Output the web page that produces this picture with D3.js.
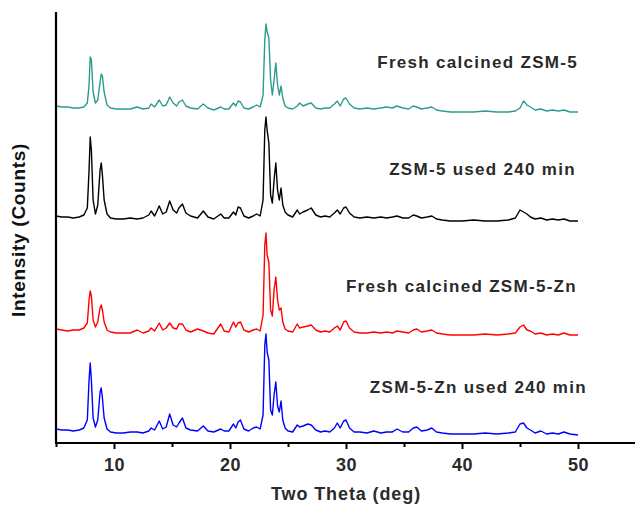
<!DOCTYPE html>
<html>
<head>
<meta charset="utf-8">
<script src="https://cdnjs.cloudflare.com/ajax/libs/d3/7.8.5/d3.min.js"></script>
<style>
  body { margin: 0; background: #fff; }
  text { font-family: "Liberation Sans", Arial, sans-serif; }
</style>
</head>
<body>
<svg id="chart" width="635" height="507"></svg>
<script>
// XRD patterns, stacked. Intensities are read off the picture (a.u.),
// each series sits on its own offset.

var twoTheta = [5.0, 5.5, 6.0, 6.5, 7.0, 7.4, 7.7, 7.85, 7.95, 8.05,
  8.2, 8.4, 8.6, 8.8, 8.9, 9.0, 9.15, 9.4, 9.7, 10.2,
  10.8, 11.4, 12.0, 12.5, 13.0, 13.2, 13.5, 13.9, 14.2, 14.5,
  14.8, 15.1, 15.4, 15.6, 15.9, 16.2, 16.6, 17.2, 17.7, 18.1,
  18.6, 19.2, 19.5, 19.9, 20.3, 20.5, 20.7, 20.9, 21.2, 21.6,
  22.0, 22.3, 22.6, 22.85, 23.0, 23.1, 23.2, 23.35, 23.5, 23.65,
  23.8, 23.95, 24.1, 24.25, 24.4, 24.55, 24.75, 25.0, 25.4, 25.8,
  26.0, 26.3, 26.7, 27.0, 27.4, 27.8, 28.2, 28.6, 29.0, 29.25,
  29.5, 29.8, 30.0, 30.3, 30.7, 31.2, 31.8, 32.4, 33.0, 33.5,
  34.0, 34.4, 34.9, 35.4, 35.8, 36.1, 36.5, 37.0, 37.4, 37.8,
  38.3, 39.0, 40.0, 41.0, 42.0, 43.0, 44.0, 44.6, 45.0, 45.3,
  45.6, 45.9, 46.3, 46.8, 47.3, 47.8, 48.3, 48.8, 49.3, 50.0];

var freshZSM5 = [12, 11, 11, 10, 10, 11, 15, 33, 61, 58,
  26, 15, 18, 36, 44, 42, 26, 13, 10, 9,
  9, 9, 11, 9, 10, 14, 11, 18, 12, 13,
  21, 15, 12, 16, 18, 12, 10, 9, 14, 10,
  8, 11, 9, 9, 15, 12, 17, 16, 10, 9,
  11, 13, 11, 23, 78, 94, 86, 80, 38, 23,
  38, 55, 33, 23, 32, 20, 12, 10, 9, 12,
  15, 12, 14, 15, 10, 9, 10, 10, 14, 17,
  12, 19, 20, 14, 10, 9, 10, 9, 10, 11,
  10, 12, 10, 9, 12, 11, 9, 10, 11, 8,
  7, 6, 6, 6, 7, 6, 6, 7, 10, 17,
  13, 11, 8, 9, 7, 8, 7, 8, 6, 6];

var usedZSM5 = [12, 11, 11, 10, 11, 13, 20, 58, 91, 78,
  28, 14, 23, 58, 65, 53, 28, 14, 10, 9,
  9, 10, 9, 10, 13, 17, 12, 22, 14, 16,
  27, 18, 15, 20, 24, 15, 12, 10, 17, 11,
  9, 14, 10, 10, 16, 13, 21, 20, 12, 10,
  12, 14, 12, 28, 98, 111, 98, 85, 33, 25,
  48, 65, 38, 28, 40, 23, 16, 13, 11, 18,
  14, 16, 18, 20, 13, 11, 12, 11, 15, 18,
  14, 20, 21, 15, 11, 10, 11, 10, 11, 10,
  11, 12, 10, 10, 13, 12, 10, 11, 12, 9,
  8, 7, 7, 8, 7, 7, 8, 10, 18, 16,
  14, 11, 9, 10, 8, 9, 8, 9, 7, 7];

var freshZSM5Zn = [14, 13, 12, 13, 13, 15, 20, 43, 52, 47,
  23, 16, 21, 35, 38, 33, 21, 13, 11, 10,
  10, 10, 13, 10, 12, 15, 12, 20, 13, 15,
  20, 15, 14, 19, 19, 13, 11, 14, 12, 10,
  9, 19, 12, 11, 21, 16, 20, 21, 13, 11,
  13, 14, 12, 28, 98, 110, 88, 81, 33, 27,
  53, 66, 43, 33, 35, 21, 14, 12, 11, 19,
  15, 16, 17, 18, 13, 11, 12, 11, 15, 17,
  13, 21, 22, 15, 11, 10, 10, 11, 10, 11,
  10, 12, 11, 10, 13, 14, 11, 12, 13, 10,
  9, 8, 8, 8, 9, 8, 9, 10, 16, 18,
  13, 12, 9, 10, 8, 9, 8, 10, 8, 8];

var usedZSM5Zn = [14, 13, 13, 12, 13, 15, 23, 63, 80, 63,
  25, 16, 23, 51, 55, 45, 25, 14, 11, 10,
  10, 11, 11, 10, 12, 15, 13, 22, 14, 16,
  29, 18, 16, 20, 25, 15, 13, 12, 17, 12,
  11, 14, 12, 12, 19, 15, 21, 23, 14, 12,
  15, 16, 14, 28, 98, 109, 91, 83, 33, 28,
  48, 61, 37, 31, 42, 23, 15, 12, 11, 18,
  16, 17, 19, 18, 13, 11, 12, 11, 15, 20,
  15, 22, 23, 15, 11, 11, 10, 12, 10, 11,
  11, 14, 11, 11, 15, 16, 12, 13, 15, 11,
  10, 9, 9, 9, 10, 9, 10, 11, 19, 20,
  15, 13, 10, 12, 9, 10, 9, 11, 9, 8];

var seriesNames = ["Fresh calcined ZSM-5", "ZSM-5 used 240 min",
                   "Fresh calcined ZSM-5-Zn", "ZSM-5-Zn used 240 min"];
var seriesValues = [freshZSM5, usedZSM5, freshZSM5Zn, usedZSM5Zn];
var seriesOffsets = [325, 215, 100, 0];
var seriesColors = ["#2e9a90", "#000000", "#ff0000", "#0000ff"];

var majorTicks = [10, 20, 30, 40, 50];
var minorTicks = [5, 15, 25, 35, 45, 55];

///////////////////////////////////////////////////////////////////////////////
// Layout

var svg = d3.select("#chart");
var plotLeft = 56, plotBottom = 443, plotTop = 12;

var x = d3.scaleLinear().domain([5, 55]).range([plotLeft, 636]);
var y = d3.scaleLinear().domain([0, 431]).range([plotBottom, plotTop]);

///////////////////////////////////////////////////////////////////////////////
// Patterns

var line = d3.line()
  .x(function (d) { return x(d[0]); })
  .y(function (d) { return y(d[1]); });

seriesValues.forEach(function (vals, k) {
  var pts = twoTheta.map(function (t, i) { return [t, vals[i] + seriesOffsets[k]]; });
  svg.append("path")
    .attr("d", line(pts))
    .attr("fill", "none")
    .attr("stroke", seriesColors[k])
    .attr("stroke-width", 1.4)
    .attr("stroke-linejoin", "round");
});

// series labels, right aligned near 50 deg
var labelDx = [0, -2, -1, 9];
var labelDy = [50, 53, 51, 50];
seriesNames.forEach(function (name, k) {
  svg.append("text")
    .attr("x", x(50) + labelDx[k])
    .attr("y", y(seriesOffsets[k] + labelDy[k]))
    .attr("text-anchor", "end")
    .attr("font-size", 17)
    .attr("font-weight", "bold")
    .attr("letter-spacing", 1.3)
    .attr("fill", "#2a2a2a")
    .text(name);
});

///////////////////////////////////////////////////////////////////////////////
// Axes

var xAxis = svg.append("g")
  .attr("transform", "translate(0," + plotBottom + ")")
  .call(d3.axisBottom(x).tickValues(majorTicks).tickSize(6).tickPadding(9));
xAxis.select(".domain").remove();
xAxis.selectAll(".tick line").attr("stroke-width", 2);
xAxis.selectAll(".tick text")
  .attr("font-size", 18)
  .attr("font-weight", "bold")
  .attr("letter-spacing", 0.5)
  .attr("font-family", "Liberation Sans, Arial, sans-serif")
  .attr("fill", "#2a2a2a");

var xMinor = svg.append("g")
  .attr("transform", "translate(0," + plotBottom + ")")
  .call(d3.axisBottom(x).tickValues(minorTicks).tickSize(4).tickFormat(""));
xMinor.select(".domain").remove();
xMinor.selectAll(".tick line").attr("stroke-width", 2);

svg.append("line")
  .attr("x1", plotLeft - 1).attr("x2", 635)
  .attr("y1", plotBottom).attr("y2", plotBottom)
  .attr("stroke", "#000").attr("stroke-width", 2.2);

svg.append("line")
  .attr("x1", plotLeft).attr("x2", plotLeft)
  .attr("y1", plotTop).attr("y2", plotBottom)
  .attr("stroke", "#000").attr("stroke-width", 2.2);

svg.append("text")
  .attr("x", 346)
  .attr("y", 500)
  .attr("text-anchor", "middle")
  .attr("font-size", 18)
  .attr("font-weight", "bold")
  .attr("letter-spacing", 0.9)
  .attr("fill", "#2a2a2a")
  .text("Two Theta (deg)");

svg.append("text")
  .attr("transform", "translate(25,230) rotate(-90)")
  .attr("text-anchor", "middle")
  .attr("font-size", 19)
  .attr("font-weight", "bold")
  .attr("letter-spacing", 0.7)
  .attr("fill", "#111")
  .text("Intensity (Counts)");
</script>
</body>
</html>
